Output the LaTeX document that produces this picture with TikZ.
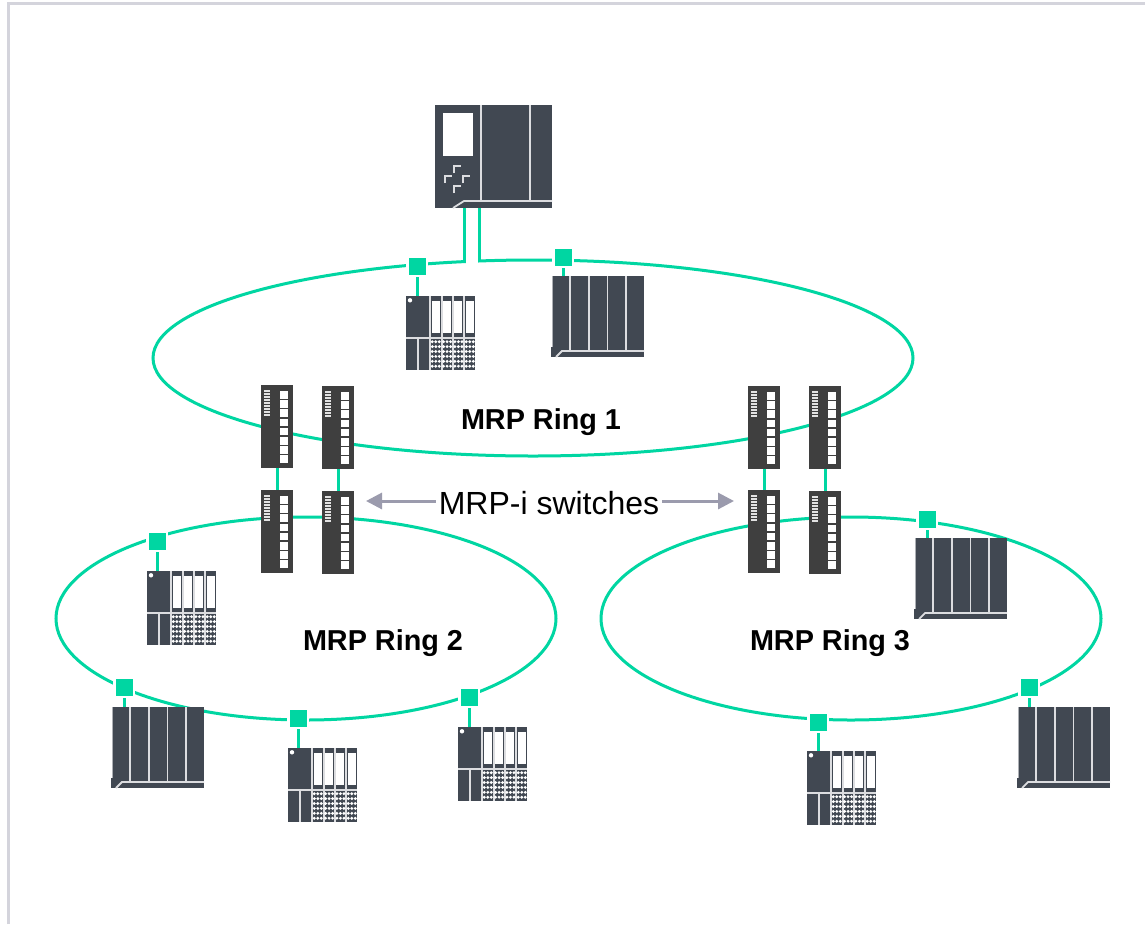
\documentclass[tikz,border=0pt]{standalone}
\usepackage{fontspec}
\setmainfont{Liberation Sans}
\usetikzlibrary{shapes.geometric,arrows.meta}
\definecolor{devdark}{HTML}{414852}
\definecolor{swdark}{HTML}{3F3F3F}
\definecolor{ringgreen}{HTML}{00D6A2}
\definecolor{devline}{HTML}{DCDDE0}
\definecolor{framegray}{HTML}{D4D4DC}
\definecolor{arrowgray}{HTML}{9B9BAD}
\tikzset{
  x=1pt,y=-1pt,
  body/.style={anchor=north west,inner sep=0pt,outer sep=0pt,fill=#1,draw=none},
  ring/.style={ellipse,draw=ringgreen,line width=3pt,inner sep=0pt,fill=none},
  tap/.style={rectangle,fill=ringgreen,draw=white,line width=2.5pt,minimum size=19.5pt,inner sep=0pt},
  link/.style={draw=ringgreen,line width=3pt},
  sep/.style={draw=devline,line width=1.8pt},
  ringlabel/.style={font=\fontsize{28.8}{29}\selectfont\bfseries,inner sep=0pt},
  callout/.style={draw=arrowgray,line width=3pt,-{Triangle[length=16pt,width=16pt]}},
  cpudev/.pic={
    \node[body=devdark,minimum width=117pt,minimum height=103pt] (body) at (0,0) {};
    \fill[white] (8,8) rectangle (38,51);
    \draw[sep] (46,0) -- (46,96);
    \draw[sep] (95,0) -- (95,96);
    \draw[sep] (18,103) -- (29,96) -- (117,96);
    \foreach \a/\b in {19/61,10/71,28/71,19/81}
      \draw[devline,line width=1.5pt] (\a,\b+7) -- (\a,\b) -- (\a+7,\b);
  },
  rackdev/.pic={
    \node[body=devdark,minimum width=93pt,minimum height=81pt] (body) at (0,0) {};
    \draw[devline!70!devdark,line width=1pt] (1,0) -- (1,71);
    \foreach \a in {19,38,56.5,75}
      \draw[sep] (\a,0) -- (\a,75);
    \draw[sep] (5,81) -- (11,75) -- (93,75);
    \fill[white] (0,0) rectangle (0.5,71);
  },
  iodev/.pic={
    \node[body=devdark,minimum width=69pt,minimum height=74pt] (body) at (0,0) {};
    \fill[white] (4,4.3) circle (2.2pt);
    \foreach \a in {23.7,35.7,46.7,58}
      \draw[sep] (\a,0) -- (\a,74);
    \draw[sep] (0,42) -- (69,42);
    \draw[sep] (12.3,42) -- (12.3,74);
    \foreach \a in {25.7,37,48.3,59.7}{
      \fill[white] (\a,5) rectangle (\a+8,37.3);
      \foreach \i in {0,1,2}
        \foreach \j in {0,1,2,3,4,5}
          \fill[white] (\a+0.6+\i*3.5,45.7+\j*4.9) circle (1.6pt);
    }
  },
  switchdev/.pic={
    \node[body=swdark,minimum width=32pt,minimum height=83pt] (body) at (0,0) {};
    \foreach \i in {0,1,2}
      \foreach \j in {0,...,8}
        \fill[white!85!swdark] (2.6+\i*2.3,5+\j*3) rectangle +(1.9,2.2);
    \foreach \j in {0,...,7}
      \fill[white] (19.3,6+\j*9.2) rectangle +(7.7,7.6);
  }
}
\begin{document}
\begin{tikzpicture}
\useasboundingbox (0,0) rectangle (1145,924);
\fill[white] (0,0) rectangle (1145,924);
\draw[framegray,line width=2.7pt] (8.8,924) -- (8.8,3.8) -- (1145,3.8);

% rings
\node[ring,minimum width=760pt,minimum height=196pt] (ring1) at (533,358) {};
\node[ring,minimum width=500pt,minimum height=203pt] (ring2) at (306,618.5) {};
\node[ring,minimum width=500pt,minimum height=203pt] (ring3) at (851,618.5) {};
\fill[white] (465.5,255) rectangle (477.8,266);

% devices
\pic (cpu) at (435,105) {cpudev};
\pic (rackA) at (551,276) {rackdev};
\pic (rackB) at (111,707) {rackdev};
\pic (rackC) at (914,538) {rackdev};
\pic (rackD) at (1017,707) {rackdev};
\pic (ioA) at (406,296) {iodev};
\pic (ioB) at (147,571) {iodev};
\pic (ioC) at (288,748) {iodev};
\pic (ioD) at (458,727) {iodev};
\pic (ioE) at (807,751) {iodev};
\pic (swA) at (261,385) {switchdev};
\pic (swB) at (322,386) {switchdev};
\pic (swC) at (261,490) {switchdev};
\pic (swD) at (322,491) {switchdev};
\pic (swE) at (748,386) {switchdev};
\pic (swF) at (809,386) {switchdev};
\pic (swG) at (748,490) {switchdev};
\pic (swH) at (809,491) {switchdev};

% taps on the rings
\node[tap] (t1) at (417,266) {};
\node[tap] (t2) at (563,257) {};
\node[tap] (t3) at (157,541) {};
\node[tap] (t4) at (124,687) {};
\node[tap] (t5) at (298,718) {};
\node[tap] (t6) at (469,697) {};
\node[tap] (t7) at (927,519) {};
\node[tap] (t8) at (1029,687) {};
\node[tap] (t9) at (818,722) {};

% stubs
\draw[link] (t1.south) -- (t1.south |- ioAbody.north);
\draw[link] (t2.south) -- (t2.south |- rackAbody.north);
\draw[link] (t3.south) -- (t3.south |- ioBbody.north);
\draw[link] (t4.south) -- (t4.south |- rackBbody.north);
\draw[link] (t5.south) -- (t5.south |- ioCbody.north);
\draw[link] (t6.south) -- (t6.south |- ioDbody.north);
\draw[link] (t7.south) -- (t7.south |- rackCbody.north);
\draw[link] (t8.south) -- (t8.south |- rackDbody.north);
\draw[link] (t9.south) -- (t9.south |- ioEbody.north);

% controller to ring
\coordinate (upL) at (464,261.5);
\coordinate (upR) at (479.3,260);
\draw[link] (upL |- cpubody.south) -- (upL);
\draw[link] (upR |- cpubody.south) -- (upR);

% switch couplings
\draw[link] (swAbody.south) -- (swCbody.north);
\draw[link] (swBbody.south) -- (swDbody.north);
\draw[link] (swEbody.south) -- (swGbody.north);
\draw[link] (swFbody.south) -- (swHbody.north);

% labels
\node[ringlabel] (l1) at (541,422) {MRP Ring 1};
\node[ringlabel] (l2) at (383,643) {MRP Ring 2};
\node[ringlabel] (l3) at (830,643) {MRP Ring 3};
\node[font=\fontsize{32}{32}\selectfont,inner sep=0pt] (mrpi) at (549,503) {MRP-i switches};
\coordinate (tipL) at (366,501);
\coordinate (tipR) at (734,501);
\draw[callout] (mrpi.west |- tipL) ++(-3,0) -- (tipL);
\draw[callout] (mrpi.east |- tipR) ++(3,0) -- (tipR);
\end{tikzpicture}
\end{document}
